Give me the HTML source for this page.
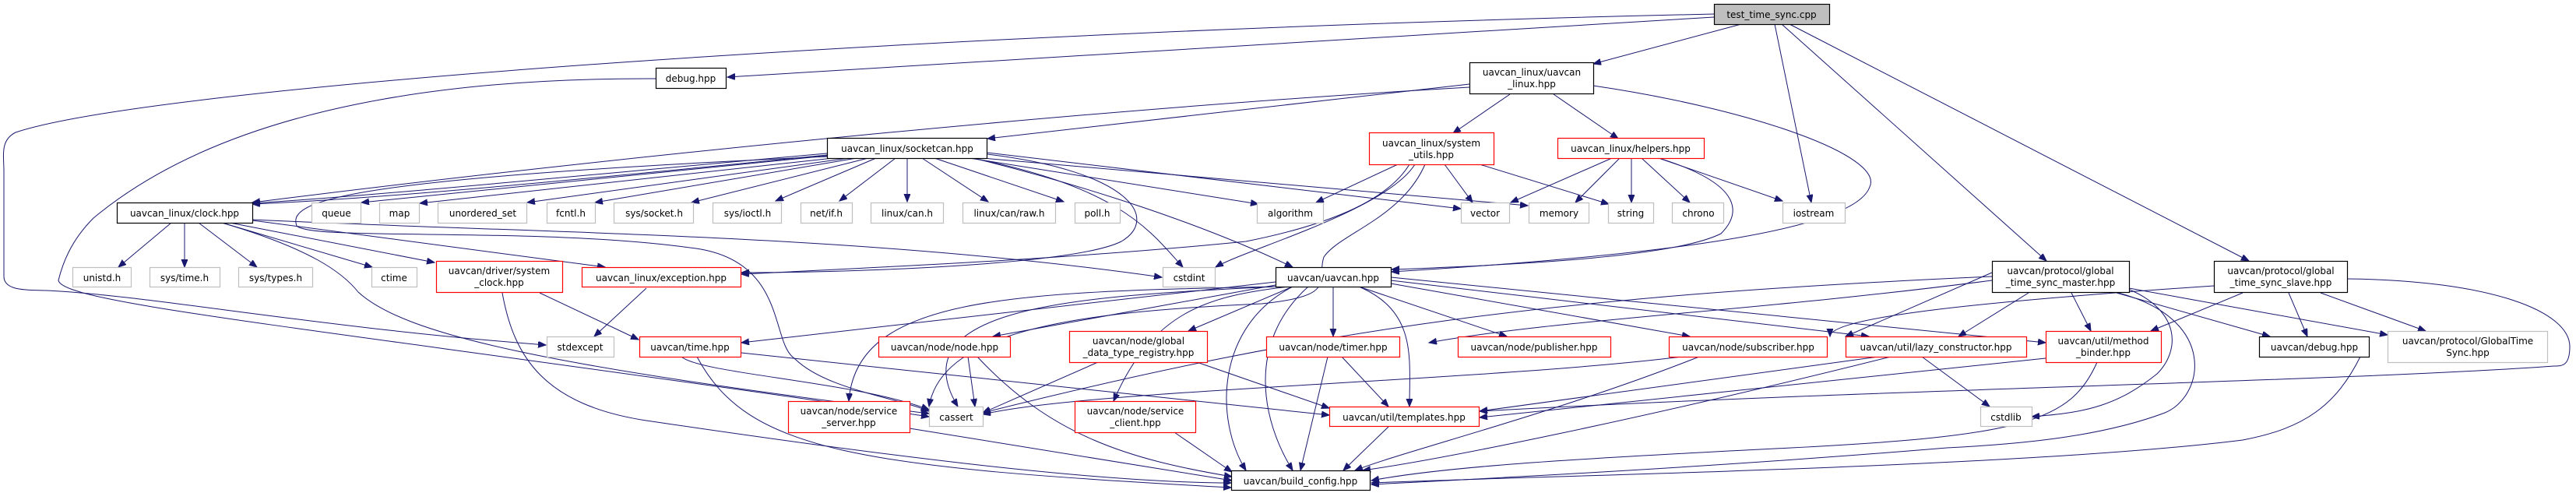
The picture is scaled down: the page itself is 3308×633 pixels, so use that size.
<!DOCTYPE html>
<html><head><meta charset="utf-8"><style>
html,body{margin:0;padding:0;background:#fff;}
svg{display:block;}
text{font-family:"DejaVu Sans","Liberation Sans",sans-serif;font-size:12px;fill:#000;text-anchor:middle;}
.b{fill:#fff;stroke:#000;stroke-width:1.2}
.r{fill:#fff;stroke:#ff0000;stroke-width:1.2}
.g{fill:#fff;stroke:#bfbfbf;stroke-width:1.2}
.e{fill:none;stroke:#191970;stroke-width:1}
</style></head><body>
<svg width="3308" height="633" viewBox="0 0 3308 633" xmlns="http://www.w3.org/2000/svg">
<defs><marker id="a" markerUnits="userSpaceOnUse" markerWidth="12" markerHeight="10" refX="10" refY="4" orient="auto"><path d="M0,0 L10,4 L0,8 z" fill="#191970" stroke="#191970"/></marker></defs>
<g class="e" marker-end="url(#a)">
<!-- test_time_sync -->
<path d="M2201,22 L934,99"/>
<path d="M2201,18 C1200,40 200,110 20,170 C0,180 5,200 5,220 L5,355 C5,375 40,372 60,373 C200,380 400,420 701,443"/>
<path d="M2236,31 L2046,82"/>
<path d="M2279,31 L2326,260"/>
<path d="M2288,31 L2628,335"/>
<path d="M2298,31 L2888,335"/>
<!-- debug.hpp -> cassert -->
<path d="M842,101 C600,100 300,130 120,280 C90,310 80,340 75,360 C80,390 400,420 1193,535"/>
<!-- uavcan_linux.hpp -->
<path d="M1887,108 L1268,178"/>
<path d="M1887,112 C1400,140 800,200 324,260"/>
<path d="M1939,121 L1866,171"/>
<path d="M1995,121 L2078,178"/>
<path d="M2046,110 C2250,140 2420,200 2401,240 C2380,300 2100,330 1787,349"/>
<!-- socketcan -->
<path d="M1062,197 C800,220 500,250 324,261"/>
<path d="M1062,199 C800,225 500,255 324,262"/>
<path d="M1062,200 L464,260"/>
<path d="M1070,203 L539,261"/>
<path d="M1090,203 L677,260"/>
<path d="M1100,203 L764,260"/>
<path d="M1115,203 L888,260"/>
<path d="M1125,203 L996,258"/>
<path d="M1150,203 L1078,258"/>
<path d="M1165,203 L1165,259"/>
<path d="M1184,203 L1269,259"/>
<path d="M1200,203 L1366,259"/>
<path d="M1245,203 L1616,262"/>
<path d="M1268,196 L1876,268"/>
<path d="M1262,203 L1962,264"/>
<path d="M1248,203 C1440,240 1480,300 1519,343"/>
<path d="M1250,203 C1400,240 1550,290 1660,343"/>
<path d="M1268,198 C1450,220 1490,280 1440,310 C1380,340 1100,350 952,350"/>
<path d="M1062,201 C420,230 370,260 381,290 C400,310 700,290 900,320 C1010,340 990,440 1020,460 C1060,500 1150,510 1193,528"/>
<!-- clock -->
<path d="M220,286 L152,343"/>
<path d="M237,286 L237,343"/>
<path d="M255,286 L330,343"/>
<path d="M285,286 L478,343"/>
<path d="M295,286 L558,337"/>
<path d="M324,283 L777,343"/>
<path d="M324,282 C700,300 1100,300 1492,356"/>
<path d="M285,286 C400,320 440,350 460,375 C520,430 700,470 1193,531"/>
<!-- system_clock -->
<path d="M645,376 C660,460 700,520 830,540 C1100,580 1400,620 1581,620"/>
<path d="M693,376 L820,436"/>
<!-- exception -> stdexcept -->
<path d="M830,370 L763,432"/>
<!-- time.hpp -->
<path d="M895,458 C960,580 1100,600 1581,626"/>
<path d="M952,453 L1707,533"/>
<path d="M875,458 C900,480 1100,490 1193,526"/>
<!-- system_utils -->
<path d="M1795,211 L1690,260"/>
<path d="M1855,211 L1891,260"/>
<path d="M1900,211 L2066,262"/>
<path d="M1810,211 C1780,260 1700,290 1600,310 C1400,330 1200,340 952,352"/>
<path d="M1817,211 C1780,270 1600,320 1561,343"/>
<path d="M1830,211 C1800,280 1720,300 1700,330 C1690,360 1720,380 1620,390 C1400,400 1210,420 1193,522"/>
<!-- helpers -->
<path d="M2070,203 L1940,260"/>
<path d="M2080,203 L2023,260"/>
<path d="M2095,203 L2095,260"/>
<path d="M2108,203 L2170,260"/>
<path d="M2130,203 L2289,258"/>
<path d="M2130,203 C2250,240 2230,280 2210,300 C2150,330 1950,340 1787,346"/>
<!-- uavcan.hpp -->
<path d="M1638,362 L952,440"/>
<path d="M1638,366 L1275,432"/>
<path d="M1660,368 L1526,425"/>
<path d="M1712,368 L1712,432"/>
<path d="M1745,368 L1935,432"/>
<path d="M1786,364 L2170,432"/>
<path d="M1786,360 L2400,432"/>
<path d="M1786,356 L2627,440"/>
<path d="M1638,368 C1300,375 1100,380 1090,515"/>
<path d="M1638,368 C1400,380 1150,390 1230,522"/>
<path d="M1655,368 C1550,380 1480,400 1430,515"/>
<path d="M1745,368 C1820,400 1810,460 1810,522"/>
<path d="M1680,368 C1600,440 1620,540 1660,604"/>
<path d="M1660,368 C1560,420 1560,540 1600,604"/>
<!-- nodes children -->
<path d="M1243,458 L1252,522"/>
<path d="M1255,458 C1350,560 1450,590 1582,612"/>
<path d="M1410,465 L1262,530"/>
<path d="M1537,465 L1707,524"/>
<path d="M1705,458 L1670,604"/>
<path d="M1723,458 L1783,522"/>
<path d="M1168,550 L1582,617"/>
<path d="M1508,555 L1582,606"/>
<path d="M1783,548 L1725,604"/>
<path d="M2182,458 C2000,530 1800,580 1740,604"/>
<path d="M2160,458 C1900,490 1400,500 1262,532"/>
<path d="M2412,458 L1900,528"/>
<path d="M2428,458 C2100,540 1850,590 1750,604"/>
<path d="M2468,458 L2555,522"/>
<path d="M2627,460 L1900,536"/>
<path d="M2693,465 C2660,540 2600,560 2300,575 C2000,590 1850,600 1761,617"/>
<path d="M3031,458 C3000,520 2960,550 2880,565 C2600,600 2000,610 1761,620"/>
<!-- master -->
<path d="M2558,350 L2370,432"/>
<path d="M2558,360 C2250,400 2000,410 1835,440"/>
<path d="M2605,376 L2515,432"/>
<path d="M2660,376 L2685,425"/>
<path d="M2718,376 L2915,432"/>
<path d="M2734,370 L3066,430"/>
<path d="M2735,372 C2800,400 2800,450 2770,480 C2720,520 2680,530 2609,535"/>
<path d="M2720,376 C2850,410 2830,510 2780,530 C2700,560 2600,570 2500,575 C2200,600 1900,615 1761,622"/>
<path d="M2558,355 C2000,380 1700,420 1262,530"/>
<!-- slave -->
<path d="M2843,367 C2500,390 2350,410 2350,432"/>
<path d="M2880,376 L2762,425"/>
<path d="M2939,376 L2963,432"/>
<path d="M2980,376 L3115,425"/>
<path d="M3014,358 C3200,360 3300,400 3300,445 C3300,470 3290,470 3280,470 C3000,490 2400,500 1900,528"/>
</g>
<!-- Nodes -->
<rect x="2201.5" y="5.5" width="148" height="26" fill="#bfbfbf" stroke="#000" stroke-width="1.2"/><text x="2275" y="23">test_time_sync.cpp</text>
<rect class="b" x="842.5" y="87.5" width="90" height="26"/><text x="887" y="105">debug.hpp</text>
<rect class="b" x="1887.5" y="80.5" width="159" height="40"/><text x="1967" y="97">uavcan_linux/uavcan</text><text x="1967" y="112">_linux.hpp</text>
<rect class="b" x="1062.5" y="177.5" width="205" height="26"/><text x="1165" y="195">uavcan_linux/socketcan.hpp</text>
<rect class="r" x="1758.5" y="170.5" width="160" height="41"/><text x="1838" y="188">uavcan_linux/system</text><text x="1838" y="203">_utils.hpp</text>
<rect class="r" x="2000.5" y="177.5" width="188" height="26"/><text x="2094" y="195">uavcan_linux/helpers.hpp</text>
<rect class="b" x="150.5" y="260.5" width="174" height="26"/><text x="237" y="278">uavcan_linux/clock.hpp</text>
<rect class="g" x="400.5" y="260.5" width="63" height="26"/><text x="432" y="278">queue</text>
<rect class="g" x="487.5" y="260.5" width="51" height="26"/><text x="513" y="278">map</text>
<rect class="g" x="562.5" y="260.5" width="114" height="26"/><text x="620" y="278">unordered_set</text>
<rect class="g" x="702.5" y="260.5" width="62" height="26"/><text x="733" y="278">fcntl.h</text>
<rect class="g" x="788.5" y="260.5" width="102" height="26"/><text x="840" y="278">sys/socket.h</text>
<rect class="g" x="915.5" y="260.5" width="88" height="26"/><text x="960" y="278">sys/ioctl.h</text>
<rect class="g" x="1028.5" y="260.5" width="66" height="26"/><text x="1061" y="278">net/if.h</text>
<rect class="g" x="1118.5" y="260.5" width="93" height="26"/><text x="1165" y="278">linux/can.h</text>
<rect class="g" x="1236.5" y="260.5" width="119" height="26"/><text x="1296" y="278">linux/can/raw.h</text>
<rect class="g" x="1380.5" y="260.5" width="58" height="26"/><text x="1409" y="278">poll.h</text>
<rect class="g" x="1614.5" y="260.5" width="85" height="26"/><text x="1657" y="278">algorithm</text>
<rect class="g" x="1876.5" y="260.5" width="62" height="26"/><text x="1907" y="278">vector</text>
<rect class="g" x="1963.5" y="260.5" width="77" height="26"/><text x="2002" y="278">memory</text>
<rect class="g" x="2065.5" y="260.5" width="58" height="26"/><text x="2094" y="278">string</text>
<rect class="g" x="2147.5" y="260.5" width="66" height="26"/><text x="2181" y="278">chrono</text>
<rect class="g" x="2289.5" y="260.5" width="80" height="26"/><text x="2329" y="278">iostream</text>
<rect class="g" x="93.5" y="343.5" width="75" height="25"/><text x="131" y="361">unistd.h</text>
<rect class="g" x="192.5" y="343.5" width="90" height="25"/><text x="237" y="361">sys/time.h</text>
<rect class="g" x="306.5" y="343.5" width="95" height="25"/><text x="354" y="361">sys/types.h</text>
<rect class="g" x="477.5" y="343.5" width="58" height="25"/><text x="506" y="361">ctime</text>
<rect class="r" x="560.5" y="335.5" width="162" height="40"/><text x="641" y="352">uavcan/driver/system</text><text x="641" y="367">_clock.hpp</text>
<rect class="r" x="747.5" y="343.5" width="204" height="25"/><text x="849" y="361">uavcan_linux/exception.hpp</text>
<rect class="g" x="1493.5" y="343.5" width="67" height="25"/><text x="1527" y="361">cstdint</text>
<rect class="b" x="1638.5" y="343.5" width="148" height="25"/><text x="1712" y="361">uavcan/uavcan.hpp</text>
<rect class="b" x="2558.5" y="335.5" width="176" height="40"/><text x="2646" y="352">uavcan/protocol/global</text><text x="2646" y="367">_time_sync_master.hpp</text>
<rect class="b" x="2843.5" y="335.5" width="171" height="40"/><text x="2929" y="352">uavcan/protocol/global</text><text x="2929" y="367">_time_sync_slave.hpp</text>
<rect class="g" x="702.5" y="432.5" width="86" height="26"/><text x="745" y="450">stdexcept</text>
<rect class="r" x="821.5" y="432.5" width="130" height="26"/><text x="886" y="450">uavcan/time.hpp</text>
<rect class="r" x="1128.5" y="432.5" width="169" height="26"/><text x="1213" y="450">uavcan/node/node.hpp</text>
<rect class="r" x="1373.5" y="425.5" width="177" height="40"/><text x="1462" y="442">uavcan/node/global</text><text x="1462" y="457">_data_type_registry.hpp</text>
<rect class="r" x="1626.5" y="432.5" width="171" height="26"/><text x="1712" y="450">uavcan/node/timer.hpp</text>
<rect class="r" x="1872.5" y="432.5" width="196" height="26"/><text x="1970" y="450">uavcan/node/publisher.hpp</text>
<rect class="r" x="2143.5" y="432.5" width="203" height="26"/><text x="2245" y="450">uavcan/node/subscriber.hpp</text>
<rect class="r" x="2370.5" y="432.5" width="232" height="26"/><text x="2486" y="450">uavcan/util/lazy_constructor.hpp</text>
<rect class="r" x="2627.5" y="425.5" width="148" height="40"/><text x="2701" y="442">uavcan/util/method</text><text x="2701" y="457">_binder.hpp</text>
<rect class="b" x="2901.5" y="432.5" width="141" height="26"/><text x="2972" y="450">uavcan/debug.hpp</text>
<rect class="g" x="3066.5" y="425.5" width="205" height="40"/><text x="3169" y="442">uavcan/protocol/GlobalTime</text><text x="3169" y="457">Sync.hpp</text>
<rect class="r" x="1012.5" y="515.5" width="156" height="40"/><text x="1090" y="532">uavcan/node/service</text><text x="1090" y="547">_server.hpp</text>
<rect class="g" x="1193.5" y="522.5" width="69" height="25"/><text x="1228" y="540">cassert</text>
<rect class="r" x="1380.5" y="515.5" width="155" height="40"/><text x="1458" y="532">uavcan/node/service</text><text x="1458" y="547">_client.hpp</text>
<rect class="r" x="1707.5" y="522.5" width="192" height="25"/><text x="1803" y="540">uavcan/util/templates.hpp</text>
<rect class="g" x="2543.5" y="522.5" width="66" height="25"/><text x="2576" y="540">cstdlib</text>
<rect class="b" x="1581.5" y="604.5" width="178" height="25"/><text x="1670" y="622">uavcan/build_config.hpp</text>
</svg>
</body></html>
